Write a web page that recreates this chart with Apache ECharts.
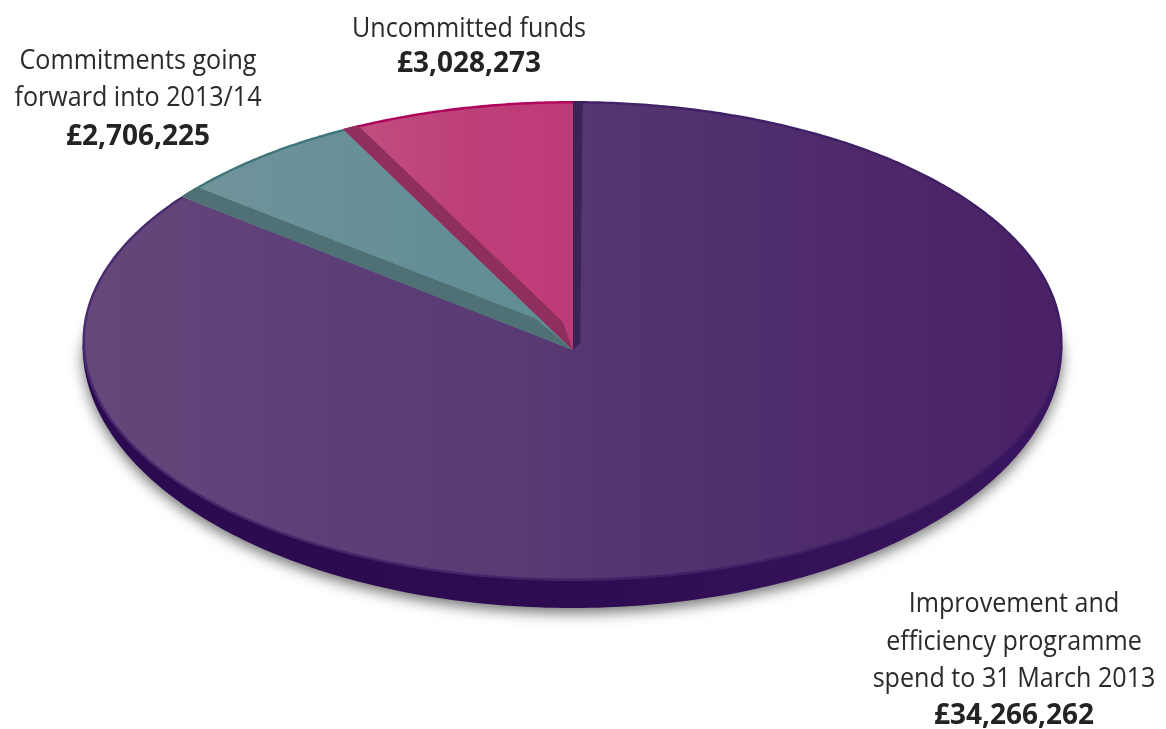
<!DOCTYPE html>
<html>
<head>
<meta charset="utf-8">
<style>html,body{margin:0;padding:0;background:#fff}#chart{width:1166px;height:729px}</style>
<script src="https://cdn.jsdelivr.net/npm/echarts@6/dist/echarts.min.js"></script>
</head>
<body>
<div id="chart"></div>
<script>
// Funding breakdown, clockwise from twelve o'clock
const categories = ['Improvement and efficiency programme spend to 31 March 2013', 'Commitments going forward into 2013/14', 'Uncommitted funds'];
const values = [34266262, 2706225, 3028273];
const labelLines = [
  ['Improvement and', 'efficiency programme', 'spend to 31 March 2013'],
  ['Commitments going', 'forward into 2013/14'],
  ['Uncommitted funds']
];

const total = values.reduce((a, b) => a + b, 0);
const rad = Math.PI / 180;

// Tilted disc geometry: the apex sits slightly below the ellipse centre
const disc = { cx: 572.5, cy: 341, rx: 490, ry: 240, ax: 573, ay: 350, tilt: 0.495 };
const rimIn = { rx: 487.5, ry: 237.5 };

// Appearance of each wedge, in the same order as the values
const skins = [
  { rim: ['#472b6e', '#3d1c62'], face: [[0, '#674679'], [0.25, '#5d3e77'], [0.45, '#593a73'], [0.55, '#533470'], [0.75, '#4f2b6b'], [1, '#4a2066']],
    band: '#3b2258', bandOuter: 1.1, bandInnerA: 26, bandInnerF: 0.033 },
  { rim: ['#3c7478', '#3f7a80'], face: [[0, '#70939b'], [0.6, '#658f98'], [1, '#5f8d92']],
    band: '#4f7074', bandOuter: 2.8, bandInnerA: 21, bandInnerF: 0.146 },
  { rim: ['#a8005c', '#b40860'], face: [[0, '#c2507f'], [0.5, '#bd4079'], [1, '#bf3a78']],
    band: '#8f2f5e', bandOuter: 1.9, bandInnerA: 17, bandInnerF: 0.115 }
];

// Point where the ray at a clockwise angle from the apex meets an ellipse
function edge(deg, rx, ry) {
  const dx = Math.sin(deg * rad), dy = -Math.cos(deg * rad) * disc.tilt;
  const ox = (disc.ax - disc.cx) / rx, oy = (disc.ay - disc.cy) / ry;
  const a = (dx / rx) ** 2 + (dy / ry) ** 2;
  const b = 2 * (ox * dx / rx + oy * dy / ry);
  const c = ox * ox + oy * oy - 1;
  const t = (-b + Math.sqrt(b * b - 4 * a * c)) / (2 * a);
  return [disc.ax + t * dx, disc.ay + t * dy];
}

function wedge(a0, a1, rx, ry) {
  const pts = [[disc.ax, disc.ay]];
  const n = Math.max(2, Math.ceil((a1 - a0) * 2));
  for (let i = 0; i <= n; i++) pts.push(edge(a0 + (a1 - a0) * i / n, rx, ry));
  return pts;
}

function hGrad(stops) {
  return new echarts.graphic.LinearGradient(0, 0, 1, 0, stops.map(s => ({ offset: s[0], color: s[1] })));
}

// Disc edge: lower half of the outline, closed behind the top face
function sideShape() {
  const pts = [];
  for (let d = 0; d <= 180; d++) {
    pts.push([disc.cx + disc.rx * Math.cos(d * rad), 345 + 263 * Math.sin(d * rad)]);
  }
  for (let d = 180; d <= 360; d += 2) {
    pts.push([disc.cx + (disc.rx - 3) * Math.cos(d * rad), 345 + 150 * Math.sin(d * rad)]);
  }
  return pts;
}

function renderSide() {
  return {
    type: 'polygon',
    shape: { points: sideShape() },
    style: {
      fill: hGrad([[0, '#2c0a4f'], [0.5, '#2e0c52'], [1, '#3b1660']]),
      shadowBlur: 14, shadowColor: 'rgba(0,0,0,0.55)', shadowOffsetX: 0, shadowOffsetY: 5
    }
  };
}

function renderSlice(params, api) {
  const i = params.dataIndex;
  const before = values.slice(0, i).reduce((a, b) => a + b, 0);
  const a0 = before / total * 360;
  const a1 = a0 + api.value(0) / total * 360;
  const skin = skins[i];
  const inner = edge(a0 + skin.bandInnerA, disc.rx, disc.ry);
  const near = [
    disc.ax + (inner[0] - disc.ax) * skin.bandInnerF,
    disc.ay + (inner[1] - disc.ay) * skin.bandInnerF
  ];
  return {
    type: 'group',
    children: [
      { type: 'polygon', shape: { points: wedge(a0, a1, disc.rx, disc.ry) },
        style: { fill: hGrad([[0, skin.rim[0]], [1, skin.rim[1]]]) } },
      { type: 'polygon', shape: { points: wedge(a0, a1, rimIn.rx, rimIn.ry) },
        style: { fill: hGrad(skin.face) } },
      { type: 'polygon',
        shape: { points: [[disc.ax, disc.ay], edge(a0, disc.rx, disc.ry), edge(a0 + skin.bandOuter, disc.rx, disc.ry), near] },
        style: { fill: skin.band } }
    ]
  };
}

// Text block anchors per category: centre x and one y per line
const labelAnchors = [
  { x: 1014, ys: [604, 642, 679, 716] },
  { x: 138, ys: [61, 98, 137] },
  { x: 469, ys: [29, 64] }
];

function renderLabel(params, api) {
  const i = params.dataIndex;
  const a = labelAnchors[i];
  const money = '£' + api.value(0).toLocaleString('en-GB');
  const lines = labelLines[i].map((t, n) => ({
    type: 'text', x: a.x, y: a.ys[n], scaleX: 0.93,
    style: { text: t, fill: '#2a2a2e', font: '27px "Open Sans"', align: 'center', verticalAlign: 'middle' }
  }));
  lines.push({
    type: 'text', x: a.x, y: a.ys[labelLines[i].length],
    style: { text: money, fill: '#232326', font: 'bold 28px "Open Sans"', align: 'center', verticalAlign: 'middle' }
  });
  return { type: 'group', children: lines };
}

const chart = echarts.init(document.getElementById('chart'));
chart.setOption({
  animation: false,
  backgroundColor: '#ffffff',
  series: [
    { type: 'custom', coordinateSystem: 'none', silent: true, clip: false, z: 1, data: [total], renderItem: renderSide },
    { type: 'custom', coordinateSystem: 'none', silent: true, clip: false, z: 2, data: values.map((v, i) => ({ name: categories[i], value: v })), renderItem: renderSlice },
    { type: 'custom', coordinateSystem: 'none', silent: true, clip: false, z: 3, data: values.map((v, i) => ({ name: categories[i], value: v })), renderItem: renderLabel }
  ]
});
</script>
</body>
</html>
